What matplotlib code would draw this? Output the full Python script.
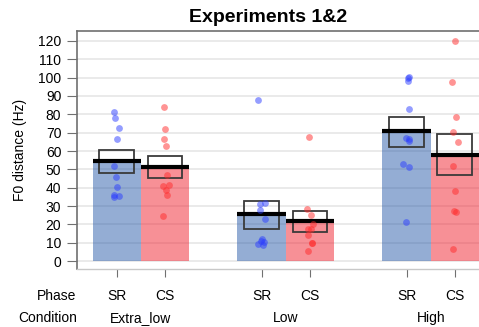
import numpy as np
import matplotlib
matplotlib.use("Agg")
import matplotlib.pyplot as plt
import matplotlib.transforms as mtransforms

plt.rcParams["font.family"] = ["Liberation Sans", "DejaVu Sans"]

conditions = ["Extra_low", "Low", "High"]
phases = ["SR", "CS"]

# bar heights (means) in SR, CS order per condition
means = [54.4, 51.5, 25.6, 21.8, 70.8, 58.1]
# standard-error box (low, high)
box_lo = [48.3, 45.2, 17.6, 16.0, 62.2, 47.0]
box_hi = [60.4, 57.3, 33.0, 27.4, 78.4, 69.1]

# individual points per bar
pts = [
    [81.4, 78.0, 72.6, 66.6, 52.1, 45.7, 40.3, 36.3, 35.6, 35.0],
    [83.7, 72.0, 66.8, 62.8, 47.0, 41.7, 41.2, 38.8, 36.1, 24.7],
    [87.6, 31.6, 31.2, 28.1, 23.2, 12.0, 11.2, 10.5, 9.6, 8.7],
    [67.9, 28.7, 25.4, 20.0, 17.8, 17.5, 14.2, 10.0, 9.8, 5.6],
    [100.3, 99.5, 98.0, 82.6, 67.1, 66.4, 65.7, 52.8, 51.5, 21.1],
    [119.8, 97.3, 78.6, 70.1, 65.0, 51.9, 38.3, 27.4, 27.0, 6.9],
]

BAR_COL = {"SR": "#2a5caa", "CS": "#f0222f"}
PT_COL = {"SR": "#2a3cff", "CS": "#ff2a2a"}
SPINE = "#707070"

xpos = [0, 1, 3, 4, 6, 7]
phase_of = ["SR", "CS"] * 3

fig = plt.figure(figsize=(4.79, 3.27), dpi=100)
ax = fig.add_axes([0.160, 0.177, 0.84, 0.728])

ax.set_xlim(-0.83, 7.5)
ax.set_ylim(-4.3, 125.3)
ax.set_yticks(np.arange(0, 121, 10))
for yv in np.arange(0, 121, 10):
    ax.axhline(yv, color="#e8e8e8", lw=1.3, zorder=0)

rng = np.random.default_rng(3)
for i, x in enumerate(xpos):
    ph = phase_of[i]
    ax.bar(x, means[i], width=1.0, color=BAR_COL[ph], alpha=0.5, lw=0, zorder=1)
    ax.add_patch(plt.Rectangle((x - 0.36, box_lo[i]), 0.72, box_hi[i] - box_lo[i],
                               fill=False, ec="#3a3a3a", lw=1.3, zorder=3))
    ax.plot([x - 0.5, x + 0.5], [means[i], means[i]], color="black", lw=3,
            solid_capstyle="butt", zorder=4)
    jit = rng.uniform(-0.08, 0.08, len(pts[i]))
    ax.scatter(x + jit, pts[i], s=24, color=PT_COL[ph], alpha=0.5, lw=0, zorder=5)

ax.set_xticks(xpos)
ax.set_xticklabels([])
ax.tick_params(axis="x", length=6, color=SPINE, direction="out")
ax.tick_params(axis="y", length=7, color=SPINE, direction="out", labelsize=10, pad=4)
for s in ["right", "bottom"]:
    ax.spines[s].set_visible(False)
for s in ["left", "top"]:
    ax.spines[s].set_color(SPINE)
    ax.spines[s].set_linewidth(1.2)
ax.spines["bottom"].set_visible(True)
ax.spines["bottom"].set_color("#c8c8c8")
ax.spines["bottom"].set_linewidth(1.0)

trans = mtransforms.blended_transform_factory(ax.transData, ax.transAxes)
for i, x in enumerate(xpos):
    ax.text(x, -0.113, phase_of[i], transform=trans, ha="center", va="center", fontsize=10)
for j, c in enumerate(conditions):
    ax.text((xpos[2 * j] + xpos[2 * j + 1]) / 2, -0.206, c, transform=trans,
            ha="center", va="center", fontsize=10)
ax.text(-0.83, -0.113, "Phase", transform=trans, ha="right", va="center", fontsize=10)
ax.text(-0.83, -0.206, "Condition", transform=trans, ha="right", va="center", fontsize=10)

ax.set_ylabel("F0 distance (Hz)", fontsize=10, labelpad=8)
fig.text(268 / 479, 1 - 17 / 327, "Experiments 1&2", ha="center", va="center",
         fontsize=14, fontweight="bold")

fig.savefig("out.png", dpi=100)
